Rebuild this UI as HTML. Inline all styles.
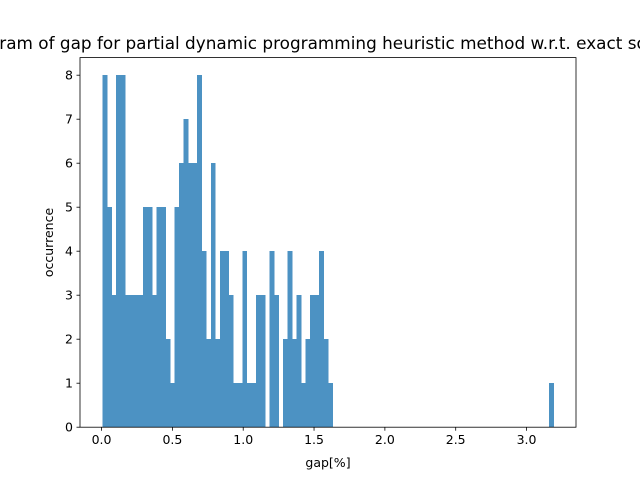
<!DOCTYPE html>
<html><head><meta charset="utf-8"><style>
body{margin:0;background:#fff;overflow:hidden}
svg{display:block;font-family:"DejaVu Sans","Liberation Sans",sans-serif}
</style></head><body>
<svg id="chart" width="640" height="480" viewBox="0 0 640 480">
<rect width="640" height="480" fill="#fff"/>
<text x="320" y="49" text-anchor="middle" font-size="16.85" fill="#000">Histogram of gap for partial dynamic programming heuristic method w.r.t. exact solution</text>
<g id="bars"></g>
<g id="axes"></g>
<text x="328" y="467" text-anchor="middle" font-size="12.5">gap[%]</text>
<text transform="translate(53,242.5) rotate(-90)" text-anchor="middle" font-size="12.5">occurrence</text>
</svg>
<script>
const counts=[8,5,3,8,8,3,3,3,3,5,5,3,5,5,2,1,5,6,7,6,6,8,4,2,6,2,4,4,3,1,1,4,1,1,3,3,0,4,3,0,2,4,2,3,1,2,3,3,4,2,1,0,0,0,0,0,0,0,0,0,0,0,0,0,0,0,0,0,0,0,0,0,0,0,0,0,0,0,0,0,0,0,0,0,0,0,0,0,0,0,0,0,0,0,0,0,0,0,0,1];
const binMin=[0.007];
const binMax=[3.19];
const xTicks=[0,0.5,1,1.5,2,2.5,3];
const xTickLabels=["0.0","0.5","1.0","1.5","2.0","2.5","3.0"];
const yTicks=[0,1,2,3,4,5,6,7,8];
const NS="http://www.w3.org/2000/svg";
const L=80,R=576,T=57.6,B=427.2;
const lo=binMin[0],hi=binMax[0],span=hi-lo;
const xmin=lo-0.05*span,xmax=hi+0.05*span;
const ymax=Math.max(...counts)*1.05;
const sx=v=>L+(v-xmin)/(xmax-xmin)*(R-L);
const sy=v=>B-v/ymax*(B-T);
const bars=document.getElementById('bars');
const w=span/counts.length;
counts.forEach((c,i)=>{
  if(!c)return;
  const r=document.createElementNS(NS,'rect');
  const x0=sx(lo+i*w),x1=sx(lo+(i+1)*w);
  r.setAttribute('x',x0);r.setAttribute('width',x1-x0+0.4);
  r.setAttribute('y',sy(c));r.setAttribute('height',B-sy(c));
  r.setAttribute('fill','#4c92c3');
  r.setAttribute('shape-rendering','crispEdges');
  
  
  bars.appendChild(r);
});
const ax=document.getElementById('axes');
function add(tag,attrs,txt){const e=document.createElementNS(NS,tag);for(const k in attrs)e.setAttribute(k,attrs[k]);if(txt!==undefined)e.textContent=txt;ax.appendChild(e);return e;}
const frame=add('rect',{x:L,y:T,width:R-L,height:B-T,fill:'none',stroke:'#000','stroke-width':0.8});


xTicks.forEach((v,i)=>{
  const x=sx(v);
  const t=add('line',{x1:x,x2:x,y1:B,y2:B+3.5,stroke:'#000','stroke-width':0.8});
  
  
  const l=add('text',{x:x,y:B+17,'text-anchor':'middle','font-size':12.5},xTickLabels[i]);
  
  
});
yTicks.forEach(v=>{
  const y=sy(v);
  const t=add('line',{x1:L-3.5,x2:L,y1:y,y2:y,stroke:'#000','stroke-width':0.8});
  
  
  const l=add('text',{x:L-7,y:y+4.5,'text-anchor':'end','font-size':12.5},String(v));
  
  
});
</script>
</body></html>
